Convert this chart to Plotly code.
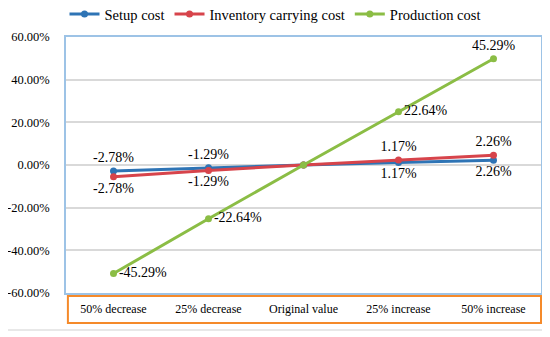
import plotly.graph_objects as go

categories = ["50% decrease", "25% decrease", "Original value", "25% increase", "50% increase"]
setup_cost = [-2.78, -1.29, 0.0, 1.17, 2.26]
inventory_cost = [-2.78, -1.29, 0.0, 1.17, 2.26]
production_cost = [-45.29, -22.64, 0.0, 22.64, 45.29]
y_ticks = [-60, -40, -20, 0, 20, 40, 60]


def labels(vals):
    return ["" if v == 0 else f"{v:.2f}%" for v in vals]


FONT = "Liberation Serif"
series = [
    ("Setup cost", setup_cost, "#2E74B5",
     ["top center", "top center", "top center", "bottom center", "bottom center"]),
    ("Inventory carrying cost", inventory_cost, "#D7444B",
     ["bottom center", "bottom center", "bottom center", "top center", "top center"]),
    ("Production cost", production_cost, "#8BBD45",
     ["middle right", "middle right", "middle right", "middle right", "top center"]),
]

fig = go.Figure()
for name, vals, color, pos in series:
    fig.add_trace(go.Scatter(
        x=categories, y=vals, name=name, mode="lines+markers+text",
        stackgroup="one", fill="none",
        line=dict(color=color, width=3), marker=dict(color=color, size=7),
        text=labels(vals), textposition=pos,
        textfont=dict(family=FONT, size=14, color="#000000"),
        cliponaxis=False,
    ))

fig.update_layout(
    width=542, height=329,
    margin=dict(l=58, r=9, t=29, b=44, autoexpand=False),
    paper_bgcolor="white", plot_bgcolor="white",
    font=dict(family=FONT, color="#000000"),
    showlegend=True,
    legend=dict(orientation="h", x=0.44, xanchor="center", y=1.09, yanchor="middle",
                font=dict(family=FONT, size=14.5), itemwidth=30, traceorder="normal"),
    xaxis=dict(showgrid=False, showline=True, mirror=True, linecolor="#9DC3E6", linewidth=1.5,
               tickfont=dict(family=FONT, size=12), ticks="", range=[-0.5, 4.5],
               ticklabelstandoff=4),
    yaxis=dict(range=[-60, 60], tickvals=y_ticks, ticktext=[f"{v:.2f}%" for v in y_ticks],
               showgrid=True, gridcolor="#D9D9D9", gridwidth=1.5,
               zeroline=True, zerolinecolor="#D9D9D9", zerolinewidth=1.5,
               showline=True, mirror=True, linecolor="#9DC3E6", linewidth=1.5,
               tickfont=dict(family=FONT, size=12.5), ticks="", ticklabelstandoff=12),
    shapes=[
        dict(type="rect", xref="paper", yref="paper", x0=0.004, x1=1.0, y0=-0.117, y1=-0.0117,
             line=dict(color="#F58A2A", width=2), fillcolor="rgba(0,0,0,0)"),
        dict(type="line", xref="paper", yref="paper", x0=-0.139, x1=1.008, y0=-0.1445, y1=-0.1445,
             line=dict(color="#E0E0E0", width=1.5)),
    ],
)

fig.write_html("out.html")
